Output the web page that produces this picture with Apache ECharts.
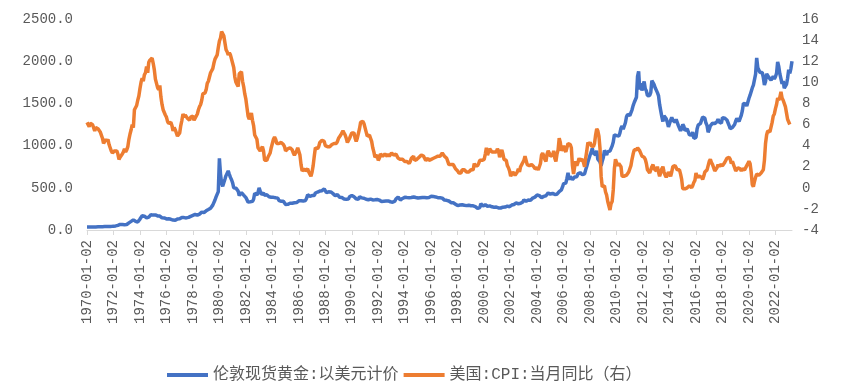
<!DOCTYPE html>
<html>
<head>
<meta charset="utf-8">
<script src="https://cdn.jsdelivr.net/npm/echarts@6/dist/echarts.min.js"></script>
<style>
html,body{margin:0;padding:0;background:#fff;}
#c{width:842px;height:392px;}
</style>
</head>
<body>
<div id="c"></div>
<script>
// Monthly series, 1970-01 .. 2023-04
const startYear = 1970, endYear = 2023, endMonth = 4;
const seriesNames = ['伦敦现货黄金:以美元计价', '美国:CPI:当月同比（右）'];
const leftTicks = { min: 0, max: 2500, step: 500 };
const rightTicks = { min: -4, max: 16, step: 2 };

const gold = [
 35.0,35.4,35.1,35.6,35.9,35.4,35.3,35.4,36.2,37.5,37.4,37.4,
 37.9,38.7,38.9,39.0,40.5,40.1,41.0,42.7,42.0,42.5,42.9,43.5,
 45.7,48.3,48.3,49.0,54.6,62.1,65.7,67.0,65.5,64.9,62.9,63.9,
 65.1,74.2,84.4,90.5,102.0,122.5,120.0,106.8,103.0,100.1,94.5,106.7,
 129.2,150.2,168.4,172.2,163.3,154.1,143.0,154.6,151.8,158.8,181.7,183.9,
 176.3,179.6,178.2,170.1,167.0,164.2,165.2,163.1,144.1,142.8,142.8,139.3,
 131.6,131.6,132.6,128.1,126.6,125.8,117.6,109.3,114.4,116.0,130.6,133.5,
 132.3,136.3,148.3,149.2,146.7,140.8,143.4,145.0,149.5,158.3,162.0,160.5,
 173.2,178.2,183.7,175.2,176.3,183.7,188.7,206.2,212.1,227.8,206.1,207.8,
 227.3,245.7,242.1,239.2,257.6,279.1,294.7,300.8,355.1,391.7,392.5,455.1,
 850.0,665.3,553.6,517.4,513.8,600.7,644.3,627.2,700.0,661.1,623.5,594.9,
 557.6,500.1,498.8,495.8,479.7,460.8,409.3,410.1,443.6,437.8,413.4,410.1,
 384.4,374.2,330.2,350.4,333.7,314.0,339.1,364.9,435.6,422.1,414.8,444.3,
 500.0,491.6,419.7,432.8,438.4,412.6,422.9,416.5,411.9,393.7,381.9,388.1,
 370.9,386.8,394.2,381.3,377.5,377.7,347.5,348.0,341.3,340.2,341.2,320.2,
 303.0,298.8,304.0,324.9,316.5,316.7,317.8,330.2,323.5,325.7,325.6,322.5,
 345.5,339.0,345.8,340.6,342.5,342.8,348.6,376.6,418.9,423.6,398.2,391.6,
 408.3,401.1,408.9,438.4,460.2,450.0,450.5,461.2,460.3,465.5,466.8,486.3,
 477.0,442.3,443.6,452.1,451.3,451.7,437.6,431.3,413.4,406.8,420.2,419.0,
 404.0,387.8,390.2,384.3,371.0,367.6,374.7,365.5,361.7,366.9,394.3,409.5,
 410.1,416.8,393.1,374.3,369.1,352.3,362.5,394.7,389.2,380.7,381.8,376.4,
 383.6,363.8,363.3,358.4,356.8,366.7,367.7,356.2,348.7,358.7,359.7,361.8,
 354.4,353.9,344.3,338.6,337.2,340.8,353.1,342.8,345.4,344.4,335.0,334.8,
 329.0,329.3,330.1,342.2,367.2,371.5,392.0,378.8,355.3,364.2,373.9,383.3,
 386.9,382.0,384.0,377.3,381.4,385.6,385.1,380.4,391.6,389.8,384.4,379.3,
 378.6,376.5,382.1,391.0,385.2,387.6,386.2,383.7,383.1,383.0,385.5,387.4,
 399.5,404.7,396.2,392.8,391.9,385.3,383.5,387.5,383.1,381.1,377.8,369.5,
 354.1,346.6,351.8,344.5,343.8,340.8,324.1,324.0,322.8,324.9,306.0,288.7,
 289.2,297.5,295.9,308.3,299.5,292.4,292.9,284.1,288.9,296.1,294.1,291.4,
 287.1,287.3,286.0,282.4,276.8,261.3,256.2,256.7,265.0,311.0,293.2,283.1,
 284.6,300.9,286.4,279.7,275.2,285.7,281.6,274.5,273.7,270.0,266.0,271.5,
 265.5,261.9,263.0,260.5,272.4,270.2,267.5,272.4,283.4,283.1,276.2,275.9,
 281.7,295.5,294.0,302.7,314.5,321.2,313.3,310.3,319.2,316.6,319.1,333.0,
 356.9,359.0,340.6,328.2,355.7,356.4,351.0,359.8,378.9,378.9,389.9,407.6,
 414.0,405.3,406.7,403.0,383.8,392.4,398.1,400.5,405.3,420.5,439.4,442.1,
 424.0,423.4,434.0,429.2,421.9,430.7,424.5,437.9,456.0,469.9,476.7,509.8,
 549.9,555.0,557.1,610.6,676.5,596.2,633.7,632.6,598.2,585.8,627.8,629.8,
 631.2,664.8,654.9,679.4,666.9,655.5,665.3,665.4,712.7,754.6,806.3,803.2,
 889.6,922.3,968.4,909.7,888.7,889.5,939.8,839.0,829.9,806.6,760.9,816.1,
 858.7,943.2,924.3,890.2,928.6,945.7,934.2,949.4,996.6,1043.2,1127.0,1134.7,
 1117.9,1095.4,1113.3,1148.7,1205.4,1232.9,1193.0,1215.8,1271.0,1342.0,1369.9,1390.6,
 1356.4,1372.7,1424.0,1473.8,1510.4,1528.7,1572.8,1820.0,1880.0,1665.2,1738.9,1652.3,
 1656.1,1760.0,1673.8,1649.7,1591.2,1598.8,1594.3,1630.3,1770.0,1746.6,1721.6,1684.8,
 1671.9,1627.6,1593.1,1487.9,1414.0,1343.4,1285.5,1351.7,1348.6,1316.6,1275.9,1221.5,
 1244.3,1299.6,1336.1,1298.5,1288.8,1279.1,1310.6,1295.1,1236.6,1222.5,1175.3,1200.6,
 1251.8,1227.1,1178.6,1198.9,1198.6,1181.5,1128.3,1117.9,1124.8,1159.3,1086.4,1068.3,
 1097.9,1199.5,1245.1,1242.3,1260.9,1276.4,1337.3,1340.2,1326.6,1266.6,1238.4,1157.4,
 1192.1,1234.2,1231.4,1266.9,1246.0,1260.3,1236.8,1283.0,1314.1,1279.5,1281.9,1264.5,
 1331.3,1330.7,1324.7,1334.8,1303.5,1281.6,1238.0,1201.7,1198.4,1215.4,1220.7,1250.4,
 1291.8,1320.1,1300.9,1285.9,1283.7,1359.0,1412.9,1500.4,1510.6,1494.8,1470.0,1479.1,
 1560.7,1597.1,1591.9,1683.2,1715.9,1732.2,1846.5,2040.0,1921.9,1900.3,1866.3,1858.4,
 1867.1,1808.2,1718.2,1760.0,1850.3,1834.6,1807.8,1785.3,1775.1,1776.9,1821.0,1790.4,
 1816.0,1856.3,1990.0,1937.4,1848.5,1836.6,1732.7,1764.6,1680.6,1664.5,1725.1,1797.6,
 1897.8,1854.6,1912.7,2000.0
];

const cpi = [
 6.2,6.1,5.8,6.1,6.0,6.0,6.0,5.4,5.7,5.7,5.6,5.6,
 5.3,5.0,4.7,4.2,4.4,4.6,4.4,4.6,4.1,3.8,3.5,3.3,
 3.3,3.5,3.5,3.5,3.2,2.7,2.9,2.9,3.2,3.4,3.7,3.4,
 3.6,3.9,4.6,5.1,5.5,6.0,5.7,7.4,7.4,7.8,8.3,8.7,
 9.4,10.0,10.4,10.1,10.7,10.9,11.5,10.9,11.9,12.1,12.2,12.3,
 11.8,11.2,10.3,10.2,9.5,9.3,9.7,8.6,7.9,7.4,7.4,6.9,
 6.7,6.3,6.1,6.0,6.2,5.9,5.4,5.7,5.5,5.5,4.9,4.9,
 5.2,5.9,6.4,7.0,6.7,6.9,6.8,6.6,6.6,6.4,6.7,6.7,
 6.8,6.4,6.6,6.5,7.0,7.4,7.7,7.9,8.3,8.9,8.9,9.0,
 9.3,9.9,10.1,10.5,10.9,10.9,11.3,11.8,12.2,12.1,12.6,13.3,
 13.9,14.2,14.8,14.7,14.4,14.4,13.1,12.9,12.6,12.8,12.6,12.5,
 11.8,11.4,10.5,10.0,9.8,9.6,10.8,10.8,11.0,10.1,9.6,8.9,
 8.4,7.6,6.8,6.5,6.7,7.1,6.4,5.9,5.0,5.1,4.6,3.8,
 3.7,3.5,3.6,3.9,3.5,2.6,2.5,2.6,2.9,2.9,3.3,3.8,
 4.2,4.6,4.8,4.6,4.2,4.2,4.2,4.3,4.3,4.3,4.1,3.9,
 3.5,3.5,3.7,3.7,3.8,3.8,3.6,3.3,3.1,3.2,3.5,3.8,
 3.9,3.1,2.2,1.6,1.6,1.8,1.6,1.6,1.8,1.5,1.3,1.1,
 1.5,2.1,3.0,3.8,3.9,3.7,3.9,4.3,4.4,4.5,4.5,4.4,
 4.0,3.9,3.9,3.9,3.9,4.0,4.1,4.0,4.2,4.2,4.2,4.4,
 4.7,4.8,5.0,5.1,5.4,5.2,5.0,4.7,4.3,4.5,4.7,4.6,
 5.2,5.3,5.2,4.7,4.4,4.7,4.8,5.6,6.2,6.3,6.3,6.1,
 5.7,5.3,4.9,4.9,5.0,4.7,4.4,3.8,3.4,2.9,3.0,3.1,
 2.6,2.8,3.2,3.2,3.0,3.1,3.2,3.1,3.0,3.2,3.0,2.9,
 3.3,3.2,3.1,3.2,3.2,3.0,2.8,2.8,2.7,2.8,2.7,2.7,
 2.5,2.5,2.5,2.4,2.3,2.5,2.8,2.9,3.0,2.6,2.7,2.7,
 2.8,2.9,2.9,3.1,3.2,3.0,2.8,2.6,2.5,2.8,2.6,2.5,
 2.7,2.7,2.8,2.9,2.9,2.8,3.0,2.9,3.0,3.0,3.3,3.3,
 3.0,3.0,2.8,2.5,2.2,2.3,2.2,2.2,2.2,2.1,1.8,1.7,
 1.6,1.4,1.4,1.4,1.7,1.7,1.7,1.6,1.5,1.5,1.5,1.6,
 1.7,1.6,1.7,2.3,2.1,2.0,2.1,2.3,2.6,2.6,2.6,2.7,
 2.7,3.2,3.8,3.1,3.2,3.7,3.7,3.4,3.5,3.4,3.4,3.4,
 3.7,3.5,2.9,3.3,3.6,3.2,2.7,2.7,2.6,2.1,1.9,1.6,
 1.1,1.1,1.5,1.6,1.2,1.1,1.5,1.8,1.5,2.0,2.2,2.4,
 2.6,3.0,3.0,2.2,2.1,2.1,2.1,2.2,2.3,2.0,1.8,1.9,
 1.9,1.7,1.7,2.3,3.1,3.3,3.0,2.7,2.5,3.2,3.5,3.3,
 3.0,3.0,3.1,3.5,2.8,2.5,3.2,3.6,4.7,4.3,3.5,3.4,
 4.0,3.6,3.4,3.5,4.2,4.3,4.1,3.8,2.1,1.3,2.0,2.5,
 2.1,2.4,2.8,2.6,2.7,2.7,2.4,2.0,2.8,3.5,4.3,4.1,
 4.3,4.0,4.0,3.9,4.2,5.0,5.6,5.4,4.9,3.7,1.1,0.1,
 0.0,0.2,-0.4,-0.7,-1.3,-1.4,-2.1,-1.5,-1.3,-0.2,1.8,2.7,
 2.6,2.1,2.3,2.2,2.0,1.1,1.2,1.1,1.1,1.2,1.1,1.5,
 1.6,2.1,2.7,3.2,3.6,3.6,3.6,3.8,3.9,3.5,3.4,3.0,
 2.9,2.9,2.7,2.3,1.7,1.7,1.4,1.7,2.0,2.2,1.8,1.7,
 1.6,2.0,1.5,1.1,1.4,1.8,2.0,1.5,1.2,1.0,1.2,1.5,
 1.6,1.1,1.5,2.0,2.1,2.1,2.0,1.7,1.7,1.7,1.3,0.8,
 -0.1,0.0,-0.1,-0.2,0.0,0.1,0.2,0.2,0.0,0.2,0.5,0.7,
 1.4,1.0,0.9,1.1,1.0,1.0,0.8,1.1,1.5,1.6,1.7,2.1,
 2.5,2.7,2.4,2.2,1.9,1.6,1.7,1.9,2.2,2.0,2.2,2.1,
 2.1,2.2,2.4,2.5,2.8,2.9,2.9,2.7,2.3,2.5,2.2,1.9,
 1.6,1.5,1.9,2.0,1.8,1.6,1.8,1.7,1.7,1.8,2.1,2.3,
 2.5,2.3,1.5,0.3,0.1,0.6,1.0,1.3,1.4,1.2,1.2,1.4,
 1.4,1.7,2.6,4.2,5.0,5.4,5.4,5.3,5.4,6.2,6.8,7.0,
 7.5,7.9,8.5,8.3,8.6,9.1,8.5,8.3,8.2,7.7,7.1,6.5,
 6.4,6.0
];

// category labels (dates)
const dates = [];
for (let y = startYear; y <= endYear; y++) {
  for (let m = 1; m <= 12; m++) {
    if (y === endYear && m > endMonth) break;
    dates.push(y + '-' + String(m).padStart(2, '0') + '-02');
  }
}

const monoFont = '"Liberation Mono", "DejaVu Sans Mono", monospace';
const labelColor = '#595959';

const chart = echarts.init(document.getElementById('c'), null, { renderer: 'canvas' });
chart.setOption({
  animation: false,
  backgroundColor: '#ffffff',
  grid: { left: 87, right: 50, top: 19, bottom: 162, containLabel: false },
  legend: {
    left: 162, top: 362,
    icon: 'rect', itemWidth: 41, itemHeight: 4, itemGap: 5,
    textStyle: { fontFamily: '"Liberation Mono", "Noto Sans CJK SC", sans-serif', fontSize: 16, color: labelColor },
    data: seriesNames
  },
  xAxis: {
    type: 'category',
    data: dates,
    boundaryGap: false,
    axisLine: { lineStyle: { color: '#d9d9d9', width: 1 } },
    axisTick: { show: true, length: 5, lineStyle: { color: '#d9d9d9' }, interval: (i) => i % 24 === 0 },
    axisLabel: {
      rotate: 90, margin: 10, interval: (i) => i % 24 === 0,
      fontFamily: monoFont, fontSize: 14, color: labelColor
    },
    splitLine: { show: false }
  },
  yAxis: [
    {
      type: 'value', min: leftTicks.min, max: leftTicks.max, interval: leftTicks.step,
      axisLine: { show: false }, axisTick: { show: false }, splitLine: { show: false },
      axisLabel: { formatter: (v) => v.toFixed(1), fontFamily: monoFont, fontSize: 14, color: labelColor, margin: 14 }
    },
    {
      type: 'value', min: rightTicks.min, max: rightTicks.max, interval: rightTicks.step,
      axisLine: { show: false }, axisTick: { show: false }, splitLine: { show: false },
      axisLabel: { fontFamily: monoFont, fontSize: 14, color: labelColor, margin: 10 }
    }
  ],
  series: [
    {
      name: seriesNames[0], type: 'line', yAxisIndex: 0, data: gold,
      showSymbol: false, symbol: 'none',
      lineStyle: { color: '#4472C4', width: 3.5 }, itemStyle: { color: '#4472C4' }
    },
    {
      name: seriesNames[1], type: 'line', yAxisIndex: 1, data: cpi,
      showSymbol: false, symbol: 'none',
      lineStyle: { color: '#ED7D31', width: 3.5 }, itemStyle: { color: '#ED7D31' }
    }
  ]
});
</script>
</body>
</html>
